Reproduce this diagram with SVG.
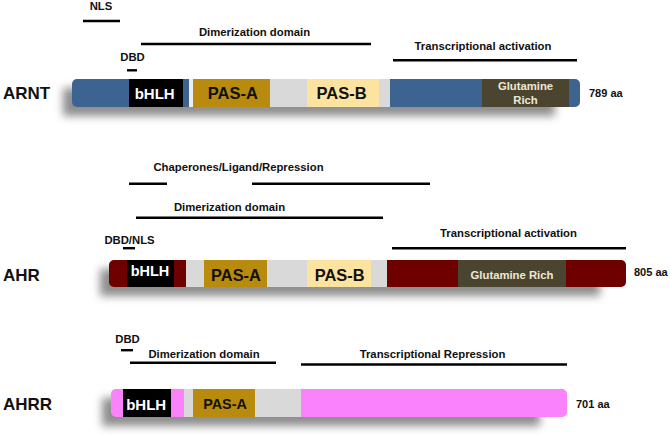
<svg xmlns="http://www.w3.org/2000/svg" width="670" height="436" viewBox="0 0 670 436">
<style>
text{font-family:"Liberation Sans",Arial,sans-serif;font-weight:bold;fill:#111}
.lbl{font-size:11.3px;text-anchor:middle}
.name{font-size:17px}
.aa{font-size:11px}
.dom{font-size:16.5px;text-anchor:middle}
.bh{font-size:15px;text-anchor:middle;fill:#fff}
.gq{font-size:11.3px;text-anchor:middle;fill:#ece8d6}
.ln{stroke:#000;stroke-width:2.4;fill:none}
.blue{fill:#3d6391}.gold{fill:#b88a0e}.pale{fill:#fde3a0}.grey{fill:#d9d9d9}
.olive{fill:#4b4530}.red{fill:#6e0000}.pink{fill:#fa82fa}.blk{fill:#000}
.shadow{fill:#4a4a4a;filter:url(#blur);opacity:.62}
</style>
<defs>
<filter id="blur" x="-10%" y="-100%" width="120%" height="300%"><feGaussianBlur stdDeviation="4.5"/></filter>
<clipPath id="cArnt"><rect x="72" y="79" width="508" height="28" rx="5"/></clipPath>
<clipPath id="cAhr"><rect x="109" y="260" width="517" height="27" rx="5"/></clipPath>
<clipPath id="cAhrr"><rect x="111" y="389" width="456" height="28" rx="5"/></clipPath>
</defs>

<g id="connectors">
<line class="ln" x1="83" y1="21" x2="120" y2="21"/>
<line class="ln" x1="141" y1="44" x2="371" y2="44"/>
<line class="ln" x1="127" y1="70.3" x2="137" y2="70.3"/>
<line class="ln" x1="393" y1="60.2" x2="577" y2="60.2"/>
<line class="ln" x1="129" y1="183.7" x2="167" y2="183.7"/>
<line class="ln" x1="252" y1="183.7" x2="430" y2="183.7"/>
<line class="ln" x1="136" y1="217.7" x2="383" y2="217.7"/>
<line class="ln" x1="123" y1="248.2" x2="135" y2="248.2"/>
<line class="ln" x1="392" y1="248.3" x2="626" y2="248.3"/>
<line class="ln" x1="121" y1="350.2" x2="133" y2="350.2"/>
<line class="ln" x1="130" y1="362.8" x2="276" y2="362.8"/>
<line class="ln" x1="301" y1="364.5" x2="567" y2="364.5"/>
</g>

<g id="labels">
<text class="lbl" x="101" y="10">NLS</text>
<text class="lbl" x="254.5" y="36">Dimerization domain</text>
<text class="lbl" x="132.5" y="61">DBD</text>
<text class="lbl" x="483" y="50">Transcriptional activation</text>
<text class="lbl" x="238.5" y="170.8">Chaperones/Ligand/Repression</text>
<text class="lbl" x="229.5" y="210.8">Dimerization domain</text>
<text class="lbl" x="129.5" y="244">DBD/NLS</text>
<text class="lbl" x="508.5" y="236.5">Transcriptional activation</text>
<text class="lbl" x="127.5" y="343.3">DBD</text>
<text class="lbl" x="204" y="357.7">Dimerization domain</text>
<text class="lbl" x="432.5" y="358.1">Transcriptional Repression</text>
</g>

<g id="arnt">
<text class="name" x="3" y="99.3">ARNT</text>
<rect class="shadow" x="63" y="88" width="492" height="28"/>
<g clip-path="url(#cArnt)">
<rect class="blue" x="72" y="79" width="508" height="28"/>
<rect class="blk" x="129" y="79" width="54" height="28"/>
<rect fill="#eeeeee" x="189" y="79" width="4" height="28"/>
<rect class="gold" x="193" y="79" width="77" height="28"/>
<rect class="grey" x="270" y="79" width="37" height="28"/>
<rect class="pale" x="307" y="79" width="72" height="28"/>
<rect class="grey" x="379" y="79" width="11" height="28"/>
<rect class="olive" x="482" y="79" width="87" height="28"/>
</g>
<text class="bh" x="154.7" y="98.7">bHLH</text>
<text class="dom" x="232.8" y="99.3">PAS-A</text>
<text class="dom" x="341.5" y="99.3">PAS-B</text>
<text class="gq" x="525.5" y="89.8">Glutamine</text>
<text class="gq" x="525.5" y="103.8">Rich</text>
<text class="aa" x="589" y="97.3">789 aa</text>
</g>

<g id="ahr">
<text class="name" x="3" y="280.7">AHR</text>
<rect class="shadow" x="100" y="269" width="500" height="27"/>
<g clip-path="url(#cAhr)">
<rect class="red" x="109" y="260" width="517" height="27"/>
<rect class="blk" x="127" y="260" width="47" height="27"/>
<rect class="grey" x="186" y="260" width="18" height="27"/>
<rect class="gold" x="204" y="260" width="63" height="27"/>
<rect class="grey" x="267" y="260" width="40" height="27"/>
<rect class="pale" x="307" y="260" width="64" height="27"/>
<rect class="grey" x="371" y="260" width="16" height="27"/>
<rect class="olive" x="458" y="260" width="108" height="27"/>
</g>
<text class="bh" x="150" y="276" style="font-size:14.5px">bHLH</text>
<text class="dom" x="236" y="280.7" style="font-size:16.4px">PAS-A</text>
<text class="dom" x="339.7" y="280.5" style="font-size:16.4px">PAS-B</text>
<text class="gq" x="512" y="278.8">Glutamine Rich</text>
<text class="aa" x="634" y="276">805 aa</text>
</g>

<g id="ahrr">
<text class="name" x="3" y="410">AHRR</text>
<rect class="shadow" x="102" y="398" width="438" height="28"/>
<g clip-path="url(#cAhrr)">
<rect class="pink" x="111" y="389" width="456" height="28"/>
<rect class="blk" x="123" y="389" width="48" height="28"/>
<rect class="grey" x="184" y="389" width="9" height="28"/>
<rect class="gold" x="193" y="389" width="62" height="28"/>
<rect class="grey" x="255" y="389" width="46" height="28"/>
</g>
<text class="bh" x="146.2" y="409.7">bHLH</text>
<text class="dom" x="225" y="409" style="font-size:14.4px">PAS-A</text>
<text class="aa" x="576" y="408.3">701 aa</text>
</g>
</svg>
